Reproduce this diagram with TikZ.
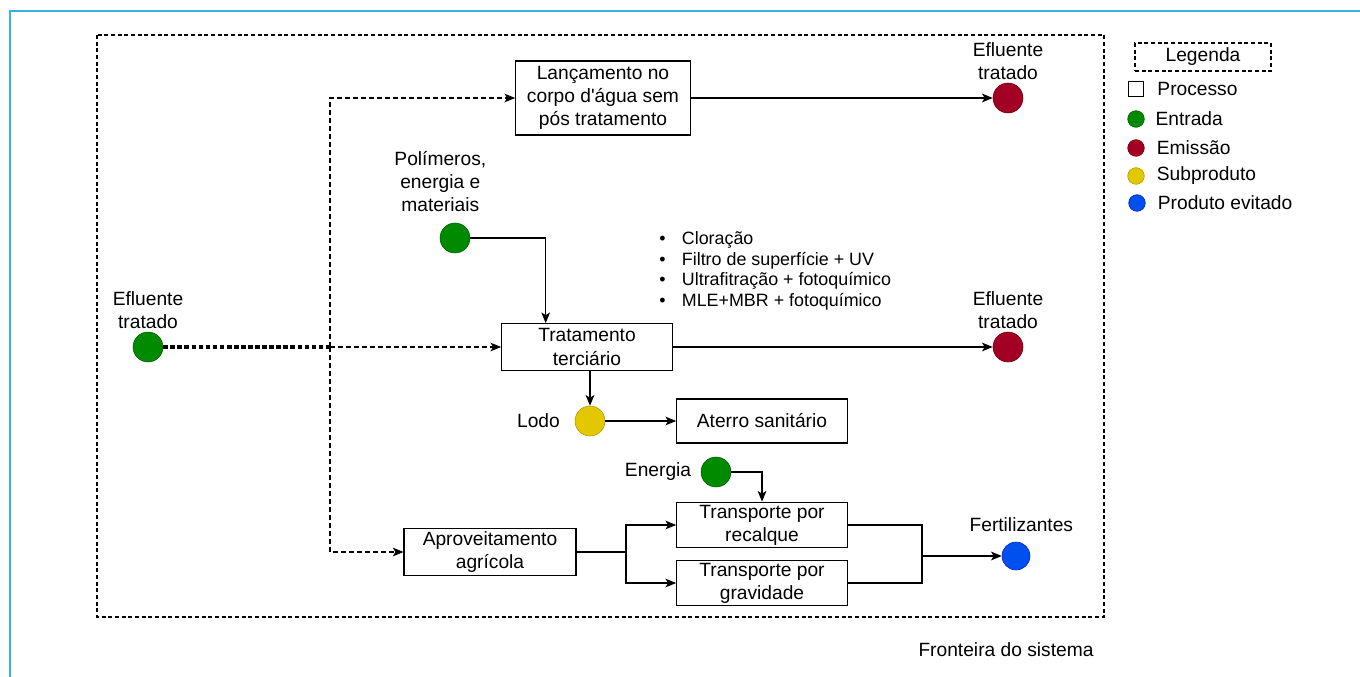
\documentclass[tikz,border=0pt]{standalone}
\usepackage{fontspec}
\setmainfont{Liberation Sans}
\usetikzlibrary{arrows.meta, positioning}

\definecolor{entgreen}{HTML}{008A00}
\definecolor{entstroke}{HTML}{005700}
\definecolor{emired}{HTML}{A20025}
\definecolor{emistroke}{HTML}{6F0000}
\definecolor{subyellow}{HTML}{E3C800}
\definecolor{substroke}{HTML}{B09500}
\definecolor{evblue}{HTML}{0050EF}
\definecolor{evstroke}{HTML}{001DBC}
\definecolor{framecol}{HTML}{3AAFE0}

\begin{document}
\begin{tikzpicture}[x=0.75pt, y=-0.75pt, font=\fontsize{14.4}{17.3}\selectfont, >={Stealth[length=8pt, width=6.5pt, inset=2pt]}]
    % Node styles
    \tikzstyle{process} = [rectangle, draw, line width=0.8pt, align=center, minimum width=128pt, minimum height=33pt, inner sep=2pt]
    \tikzstyle{entrada} = [circle, draw=entstroke, fill=entgreen, minimum size=22.5pt, inner sep=0pt]
    \tikzstyle{emissao} = [circle, draw=emistroke, fill=emired, minimum size=22.5pt, inner sep=0pt]
    \tikzstyle{subprod} = [circle, draw=substroke, fill=subyellow, minimum size=22.5pt, inner sep=0pt]
    \tikzstyle{evitado} = [circle, draw=evstroke, fill=evblue, minimum size=21pt, inner sep=0pt]
    \tikzstyle{txt} = [align=center, inner sep=0pt]
    \tikzstyle{flowline} = [line width=0.8pt]
    \tikzstyle{flowarrow} = [->, line width=0.8pt]
    \tikzstyle{dasharrow} = [->, line width=0.8pt, dash pattern=on 3.5pt off 2.5pt]
    \tikzstyle{thickdash} = [line width=2.8pt, dash pattern=on 3.5pt off 1.8pt]
    \tikzstyle{boundary} = [line width=0.8pt, dash pattern=on 3pt off 2pt]

    \useasboundingbox (0,0) rectangle (1360,677);

    % Outer frame and system boundary
    \draw[framecol, line width=1.5pt] (10,677) -- (10,11) -- (1360,11);
    \draw[boundary] (97,35) rectangle (1104,617);
    \node (fronteira) [txt] at (1006,650) {Fronteira do sistema};

    % Nodes
    \node (eflin) [entrada] at (148,347) {};
    \node [txt, above=2pt of eflin] {Efluente\\tratado};

    \node (lanc) [process, minimum width=131pt, minimum height=55.5pt] at (603,98) {Lançamento no\\corpo d\textquotesingle água sem\\pós tratamento};
    \node (efl1) [emissao] at (1008,98) {};
    \node [txt, above=2pt of efl1] {Efluente\\tratado};

    \node (pol) [entrada] at (455,238) {};
    \node [txt, above=8pt of pol, xshift=-11pt] {Polímeros,\\energia e\\materiais};

    \node (opcoes) [anchor=west, align=left, inner sep=0pt, font=\fontsize{13.4}{15.4}\selectfont] at (659,271)
        {\makebox[17pt][l]{\textbullet}Cloração\\
         \makebox[17pt][l]{\textbullet}Filtro de superfície + UV\\
         \makebox[17pt][l]{\textbullet}Ultrafitração + fotoquímico\\
         \makebox[17pt][l]{\textbullet}MLE+MBR + fotoquímico};

    \node (terc) [process, minimum height=35pt] at (587,347) {Tratamento\\terciário};
    \node (efl2) [emissao] at (1008,347) {};
    \node [txt, above=2pt of efl2] {Efluente\\tratado};

    \node (lodo) [subprod] at (590,421) {};
    \node [txt, left=11pt of lodo] {Lodo};
    \node (aterro) [process] at (762,421) {Aterro sanitário};

    \node (ener) [entrada] at (716,472) {};
    \node [txt, left=7pt of ener] {Energia};

    \node (aprov) [process, minimum width=129pt, minimum height=34pt] at (490,552) {Aproveitamento\\agrícola};
    \node (recal) [process] at (762,525) {Transporte por\\recalque};
    \node (grav) [process] at (762,583) {Transporte por\\gravidade};

    \node (fert) [evitado] at (1016,556) {};
    \node [txt, above=7pt of fert, xshift=4pt] {Fertilizantes};

    \coordinate (split) at (330,347);
    \coordinate (fork) at (626,552);
    \coordinate (join) at (922,556);

    % Connectors
    \draw[thickdash] (eflin) -- (split);
    \draw[dasharrow] (split) -- (terc);
    \draw[dasharrow] (split) |- (lanc);
    \draw[dasharrow] (split) |- (aprov);

    \draw[flowarrow] (lanc) -- (efl1);
    \draw[flowarrow] (pol) -| ([xshift=-31pt]terc.north);
    \draw[flowarrow] (terc) -- (efl2);
    \draw[flowarrow] (terc.south -| lodo) -- (lodo);
    \draw[flowarrow] (lodo) -- (aterro);
    \draw[flowarrow] (ener) -| (recal);

    \draw[flowline] (aprov) -- (fork);
    \draw[flowarrow] (fork) |- (recal);
    \draw[flowarrow] (fork) |- (grav);
    \draw[flowline] (recal) -| (join);
    \draw[flowline] (grav) -| (join);
    \draw[flowarrow] (join) -- (fert);

    % Legend
    \node (legenda) [draw, boundary, minimum width=102pt, minimum height=21pt, inner sep=0pt] at (1203,57) {Legenda};
    \node (legproc) [draw, line width=0.8pt, minimum size=11pt, inner sep=0pt] at (1136,89) {};
    \node [txt, right=10pt of legproc] {Processo};
    \node (legent) [entrada, minimum size=12.5pt] at (1136,119) {};
    \node [txt, right=8pt of legent] {Entrada};
    \node (legemi) [emissao, minimum size=12.5pt] at (1136,148) {};
    \node [txt, right=9pt of legemi] {Emissão};
    \node (legsub) [subprod, minimum size=12.5pt] at (1136,176) {};
    \node [txt, right=9pt of legsub] {Subproduto};
    \node (legevi) [evitado, minimum size=12.5pt] at (1137,203) {};
    \node [txt, right=9pt of legevi] {Produto evitado};
\end{tikzpicture}
\end{document}
